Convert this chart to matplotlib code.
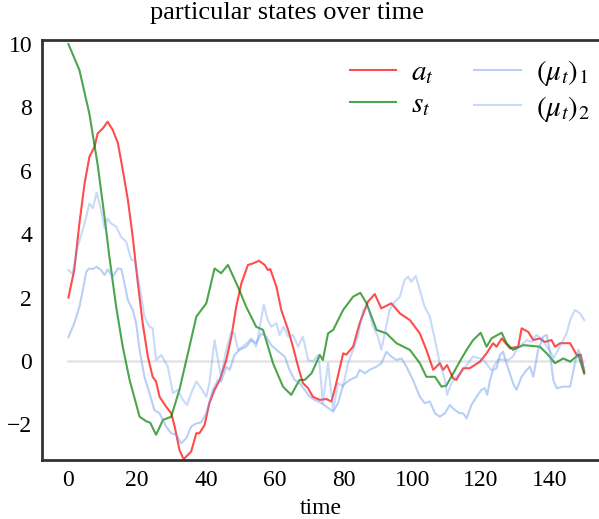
import matplotlib
matplotlib.use("Agg")
import matplotlib.pyplot as plt

plt.rcParams['font.family'] = ['Liberation Serif', 'DejaVu Serif']
plt.rcParams['mathtext.fontset'] = 'stix'

# values (time, value)
a_pts = [(0, 2.0), (1.7, 2.87), (3.2, 4.34), (4.7, 5.6), (6.1, 6.44), (7.6, 6.76), (8.5, 7.18),
         (10, 7.34), (11.4, 7.55), (12.9, 7.29), (14.4, 6.87), (15.8, 6.03), (17.3, 5.08),
         (18.7, 3.92), (20.2, 2.45), (21.6, 1.19), (23.1, 0.14), (24.5, -0.5), (25.5, -0.65),
         (26.5, -1.13), (28.4, -1.44), (29.9, -1.65), (30.9, -2.07), (32.3, -2.81), (33.5, -3.1),
         (35.7, -2.86), (37.2, -2.28), (38.1, -2.28), (39.6, -2.02), (41.0, -1.33), (42.5, -0.91),
         (44, -0.6), (45.9, 0.03), (47.4, 0.77), (48.8, 1.71), (50.3, 2.45), (52.2, 3.03),
         (53.7, 3.08), (55.4, 3.16), (57.1, 3.03), (58, 2.87), (58.7, 2.9), (60.5, 2.34),
         (61.9, 1.61), (63.9, 0.98), (65.3, 0.45), (66.8, -0.18), (68.2, -0.7), (69.7, -0.86),
         (71.1, -1.13), (73.1, -1.23), (75, -1.2), (76.5, -1.28), (77.9, -0.7), (79.9, 0.24),
         (80.8, 0.2), (82.8, 0.45), (84.7, 1.19), (87.1, 1.87), (89.1, 2.11), (91, 1.66),
         (93.9, 1.82), (96.4, 1.5), (99.3, 1.29), (102.2, 0.87), (104.1, 0.35), (106.1, -0.28),
         (108, -0.07), (109, -0.28), (110.1, -0.13), (111.9, -0.55), (112.8, -0.6), (114.8, -0.23),
         (116.7, -0.23), (119.7, -0.02), (121.6, 0.24), (123.5, 0.56), (124.5, 0.45), (126, 0.71),
         (128.4, 0.4), (130.8, 0.45), (131.8, 1.03), (133.7, 0.92), (135.2, 0.66), (137.1, 0.71),
         (138.5, 0.6), (140.5, 0.66), (141.5, 0.45), (143, 0.56), (145.9, 0.56), (147.8, 0.19),
         (149, 0.2), (150, -0.35)]

s_pts = [(0, 10.0), (3.2, 9.18), (6.1, 7.8), (8.5, 6.2), (10.5, 4.55), (11.9, 3.3), (13.9, 1.7),
         (15.8, 0.45), (17.8, -0.6), (20.7, -1.76), (22.6, -1.9), (23.8, -1.95), (25.5, -2.33),
         (27.5, -1.86), (29.9, -1.76), (32.3, -0.9), (35.2, 0.45), (37.2, 1.4), (40.1, 1.82),
         (42.5, 2.92), (44.4, 2.77), (46.4, 3.03), (49.3, 2.34), (51.7, 1.71), (54.6, 1.08),
         (56.6, 0.98), (59.5, -0.07), (62.4, -0.81), (64.8, -1.07), (67.2, -0.6), (68.7, -0.6),
         (70.7, -0.39), (73.1, 0.19), (74.0, 0.03), (75.5, 0.87), (77, 0.98), (79.9, 1.61),
         (82.8, 2.03), (84.9, 2.15), (86.7, 1.82), (89.6, 0.98), (92.5, 0.87), (95.4, 0.56),
         (99.3, 0.35), (102.2, -0.07), (104.1, -0.5), (106.6, -0.5), (108.5, -0.81), (109.9, -0.78),
         (111.9, -0.39), (113.8, -0.02), (115.8, 0.35), (117.7, 0.66), (119.9, 0.89), (121.6, 0.45),
         (123.1, 0.72), (126, 0.89), (127.4, 0.56), (129.3, 0.35), (132.3, 0.5), (137.1, 0.45),
         (139.1, 0.24), (141.5, -0.07), (143.9, 0.08), (145.9, -0.02), (148.3, 0.19), (150, -0.4)]

mu1_pts = [(0, 0.75), (1.7, 1.19), (3.2, 1.71), (4.2, 2.24), (5.2, 2.82), (6.1, 2.92), (7.1, 2.9),
           (8.2, 2.97), (9.5, 2.87), (10.5, 2.71), (11.4, 2.89), (12.9, 2.66), (14.4, 2.92),
           (15.4, 2.9), (16.3, 2.45), (17.3, 1.92), (18.7, 1.61), (19.7, 1.19), (20.7, 0.35),
           (22.1, -0.5), (23.6, -1.02), (25, -1.55), (26.5, -1.65), (28.4, -2.07), (29.9, -2.28),
           (31.4, -2.33), (32.8, -2.6), (34.3, -2.44), (35.7, -2.07), (37.2, -1.97), (38.6, -1.94),
           (40.1, -1.65), (42, -0.91), (43.5, -0.6), (44.4, -0.65), (45.9, -0.18), (46.9, -0.28),
           (48.3, 0.19), (49.8, 0.35), (51.7, 0.45), (53.2, 0.66), (54.6, 0.56), (56.1, 0.87),
           (57.5, 0.77), (59, 0.5), (60.5, 0.35), (62.9, 0.14), (64.3, -0.28), (65.8, -0.6),
           (67.2, -0.7), (68.7, -0.91), (70.2, -1.13), (71.6, -1.23), (73.6, -1.33), (75, -1.44),
           (77, -1.6), (78.4, -1.33), (79.9, -0.76), (81.8, -0.6), (83.8, -0.5), (84.7, -0.28),
           (86.2, -0.39), (87.6, -0.28), (89.6, -0.18), (91, -0.07), (92.5, 0.29), (93.9, 0.14),
           (95.4, 0.03), (96.9, 0.08), (98.3, -0.18), (100.2, -0.6), (102.2, -1.13), (103.6, -1.33),
           (105.1, -1.28), (106.6, -1.65), (108, -1.76), (109.5, -1.65), (110.9, -1.39),
           (112.4, -1.55), (113.8, -1.65), (114.8, -1.65), (115.8, -1.81), (117.2, -1.39),
           (118.7, -1.13), (120.1, -0.91), (121.1, -0.86), (121.8, -1.07), (122.6, -0.6),
           (123.5, -0.28), (124.5, -0.23), (125.5, 0.19), (126.4, 0.29), (127.4, -0.07),
           (129.3, -0.7), (130.3, -0.91), (131.8, -0.5), (133.3, -0.28), (134.2, -0.18),
           (135.2, -0.5), (136.6, 0.35), (138.1, 0.77), (139.1, 0.82), (140, 0.3), (141, -0.6),
           (142, -0.86), (143.9, -0.81), (145.9, -0.81), (147.3, -0.07), (148.3, 0.35),
           (149.3, 0.03), (150, -0.28)]

mu2_pts = [(0, 2.87), (1.2, 2.75), (2.7, 3.6), (4.7, 4.34), (6.1, 4.97), (7.1, 4.82), (8.2, 5.31),
           (9.5, 4.76), (10.5, 4.19), (11.4, 4.5), (12.4, 4.34), (13.9, 4.24), (15.3, 3.92),
           (16.8, 3.76), (18.3, 3.19), (19.2, 3.19), (20.2, 2.66), (21.2, 2.03), (22.1, 1.4),
           (23.6, 1.08), (24.5, 1.03), (25.5, 0.03), (27, 0.19), (28, 0.0), (28.9, -0.18),
           (30.4, -1.02), (31.8, -0.91), (33.3, -1.23), (34.5, -1.39), (35.7, -1.02), (37.2, -0.65),
           (38.6, -0.86), (40.1, -1.13), (41.0, -0.7), (42.5, 0.66), (43.5, 0.03), (44.4, -0.5),
           (45.9, 0.35), (47.4, 0.92), (48.3, 0.87), (49.3, 0.35), (50.7, 0.45), (52.2, 0.6),
           (53.2, 0.71), (54.6, 0.45), (55.4, 0.92), (56.8, 1.77), (58, 1.29), (59, 1.08),
           (60.5, 1.19), (61.4, 0.82), (62.6, 1.08), (63.9, 0.77), (65.3, 0.82), (66.8, 0.45),
           (68.2, 0.77), (69.7, 0.03), (71.1, -0.02), (72.6, 0.19), (73.1, -0.18), (74, -1.33),
           (75.5, -0.07), (77, -1.55), (78.4, -0.7), (79.9, -0.8), (81.3, -0.07), (82.8, 0.35),
           (84.2, 0.77), (85.7, 1.61), (87.1, 1.71), (88.6, 1.08), (90, 0.77), (91, 0.35),
           (92, 0.87), (93.4, 1.61), (94.9, 1.87), (96.4, 2.03), (97.8, 2.56), (98.8, 2.66),
           (99.7, 2.5), (101, 2.68), (102.2, 2.24), (103.6, 1.71), (105.1, 1.4), (106.6, 0.66),
           (108, -0.07), (109.5, -0.6), (110.1, -1.07), (111.4, -0.7), (112.8, -0.5), (114.8, -0.28),
           (116.2, -0.07), (117.7, 0.14), (119.7, 0.08), (121, 0.0), (123, -0.3), (125, 0.05),
           (127.9, 0.03), (129.3, 0.14), (130.8, 0.45), (132.3, 0.56), (133.3, 0.66), (134.7, 0.6),
           (136.1, 0.82), (137.6, 0.71), (139.1, 0.45), (140.5, 0.24), (141, 0.08), (142.9, 0.45),
           (144.9, 0.87), (145.9, 1.29), (147.3, 1.61), (148.8, 1.5), (150, 1.29)]

labels = [r'$a_t$', r'$s_t$', r'$(\mu_t)_1$', r'$(\mu_t)_2$']
x_ticks = [0, 20, 40, 60, 80, 100, 120, 140]
y_ticks = [-2, 0, 2, 4, 6, 8, 10]

fig = plt.figure(figsize=(5.99, 5.19), dpi=100)
ax = fig.add_axes([0.07, 0.114, 0.93, 0.809])

ax.plot([0, 150], [0, 0], color='lightgray', lw=1.8, alpha=0.6)

series = [a_pts, s_pts, mu1_pts, mu2_pts]
styles = [dict(color='red', alpha=0.7), dict(color='green', alpha=0.7),
          dict(color='cornflowerblue', alpha=0.45), dict(color='cornflowerblue', alpha=0.35)]
for pts, lab, st in zip(series, labels, styles):
    t, v = zip(*pts)
    ax.plot(t, v, lw=1.5, label=lab, **st)

ax.set_xlim(-7.7, 154.3)
ax.set_ylim(-3.12, 10.13)
ax.set_xticks(x_ticks)
ax.set_yticks(y_ticks)
ax.tick_params(length=0, labelsize=17, pad=7)
for side in ['left', 'bottom', 'top']:
    ax.spines[side].set_color('#333333')
    ax.spines[side].set_linewidth(2)
ax.spines['right'].set_visible(False)

ax.set_title('particular states over time', fontsize=19, pad=15, x=0.44)
ax.set_xlabel('time', fontsize=17, labelpad=5)
ax.legend(loc='upper right', ncol=2, frameon=False, fontsize=21,
          handlelength=1.6, handletextpad=0.5, columnspacing=1.4,
          labelspacing=0.2, bbox_to_anchor=(1.03, 1.02))

fig.savefig('out.png', dpi=100)
